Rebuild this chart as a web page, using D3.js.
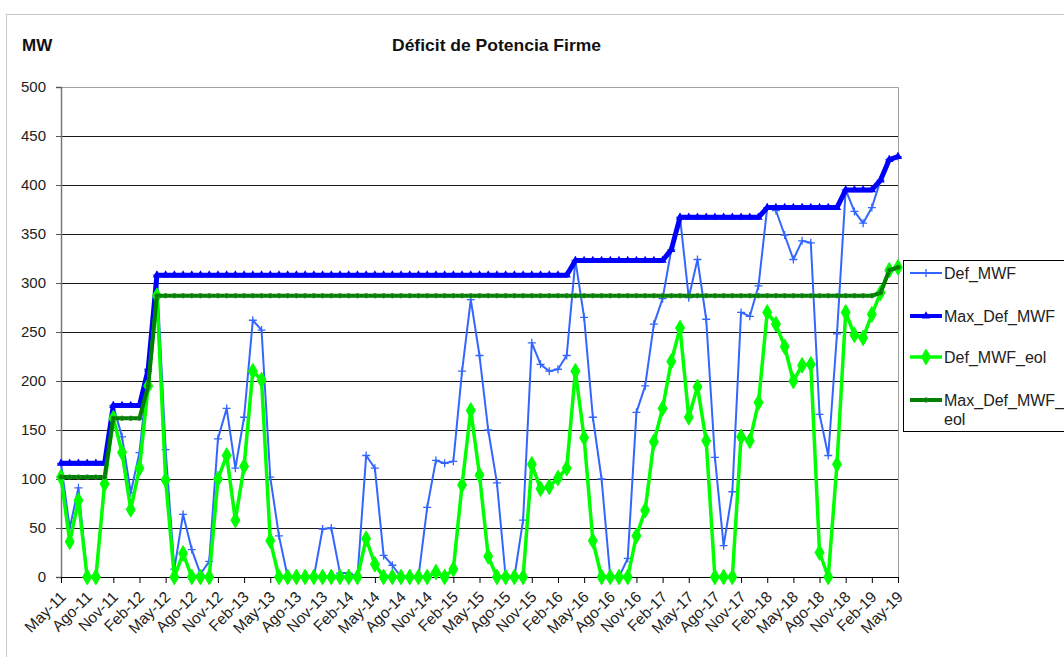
<!DOCTYPE html>
<html>
<head>
<meta charset="utf-8">
<script src="https://cdn.jsdelivr.net/npm/d3@7"></script>
<style>
  body { margin: 0; background: #fff; }
  text { font-family: "Liberation Sans", Arial, sans-serif; }
</style>
</head>
<body>
<svg id="chart" width="1064" height="657"></svg>
<script>
// month names as they appear on the axis (Spanish "Ago")
const monthNames = ['Ene', 'Feb', 'Mar', 'Abr', 'May', 'Jun', 'Jul', 'Ago', 'Sep', 'Oct', 'Nov', 'Dic']
const years = ['11', '12', '13', '14', '15', '16', '17', '18', '19']

const yTicks = [0, 50, 100, 150, 200, 250, 300, 350, 400, 450, 500]

const defMWF = [
  116, 50, 91, 0, 0, 96, 175, 143, 86, 127, 212, 308,
  130, 8, 64, 28, 3, 16, 141, 172, 111, 163, 262, 252,
  102, 42, 0, 0, 0, 0, 49, 50, 4, 4, 0, 124,
  111, 22, 12, 0, 0, 0, 71, 119, 116, 118, 210, 283,
  226, 150, 96, 0, 0, 58, 239, 217, 210, 212, 226, 323,
  265, 163, 100, 0, 0, 19, 168, 195, 258, 284, 334, 367,
  285, 324, 263, 122, 32, 87, 270, 266, 297, 377, 374, 349,
  324, 343, 341, 166, 124, 248, 395, 373, 361, 377, 405, 426,
  429
]

const maxDefMWF = [
  116, 116, 116, 116, 116, 116, 175, 175, 175, 175, 212, 308,
  308, 308, 308, 308, 308, 308, 308, 308, 308, 308, 308, 308,
  308, 308, 308, 308, 308, 308, 308, 308, 308, 308, 308, 308,
  308, 308, 308, 308, 308, 308, 308, 308, 308, 308, 308, 308,
  308, 308, 308, 308, 308, 308, 308, 308, 308, 308, 308, 323,
  323, 323, 323, 323, 323, 323, 323, 323, 323, 323, 334, 367,
  367, 367, 367, 367, 367, 367, 367, 367, 367, 377, 377, 377,
  377, 377, 377, 377, 377, 377, 395, 395, 395, 395, 405, 426,
  429
]

const defMWFeol = [
  102, 36, 78, 0, 0, 95, 162, 127, 69, 111, 195, 287,
  99, 0, 24, 0, 0, 0, 100, 124, 58, 113, 210, 201,
  37, 0, 0, 0, 0, 0, 0, 0, 0, 0, 0, 39,
  13, 0, 0, 0, 0, 0, 0, 5, 0, 8, 94, 170,
  104, 21, 0, 0, 0, 0, 115, 90, 92, 101, 111, 210,
  142, 37, 0, 0, 0, 0, 42, 68, 138, 172, 220, 254,
  163, 194, 139, 0, 0, 0, 143, 139, 178, 270, 258, 235,
  200, 216, 217, 25, 0, 115, 270, 247, 244, 268, 290, 313,
  316
]

const maxDefMWFeol = [
  102, 102, 102, 102, 102, 102, 162, 162, 162, 162, 195, 287,
  287, 287, 287, 287, 287, 287, 287, 287, 287, 287, 287, 287,
  287, 287, 287, 287, 287, 287, 287, 287, 287, 287, 287, 287,
  287, 287, 287, 287, 287, 287, 287, 287, 287, 287, 287, 287,
  287, 287, 287, 287, 287, 287, 287, 287, 287, 287, 287, 287,
  287, 287, 287, 287, 287, 287, 287, 287, 287, 287, 287, 287,
  287, 287, 287, 287, 287, 287, 287, 287, 287, 287, 287, 287,
  287, 287, 287, 287, 287, 287, 287, 287, 287, 287, 290, 313,
  316
]

// May-11 .. May-19
const categories = []
years.forEach(yr => monthNames.forEach(m => categories.push(m + '-' + yr)))
const months = categories.slice(categories.indexOf('May-11'), categories.indexOf('May-19') + 1)

const series = [
  { name: 'Def_MWF', values: defMWF, color: '#3366ff', width: 2, marker: 'cross' },
  { name: 'Max_Def_MWF', values: maxDefMWF, color: '#0000ff', width: 5, marker: 'triangle' },
  { name: 'Def_MWF_eol', values: defMWFeol, color: '#00ff00', width: 3.5, marker: 'diamond' },
  { name: 'Max_Def_MWF_eol', values: maxDefMWFeol, color: '#008000', width: 4, marker: 'circle' }
]

const svg = d3.select('#chart')
const margin = { top: 87, left: 61 }
const width = 837
const height = 490

// outer chart frame
svg.append('rect')
  .attr('x', 6.5).attr('y', 14.5)
  .attr('width', 1100).attr('height', 700)
  .attr('fill', '#fff').attr('stroke', '#c8c8c8')

svg.append('text')
  .attr('x', 22).attr('y', 51)
  .attr('font-size', 17).attr('font-weight', 'bold')
  .attr('fill', '#111')
  .text('MW')

svg.append('text')
  .attr('x', 392).attr('y', 51)
  .attr('font-size', 17).attr('font-weight', 'bold')
  .attr('fill', '#111')
  .attr('textLength', 209).attr('lengthAdjust', 'spacingAndGlyphs')
  .text('Déficit de Potencia Firme')

const g = svg.append('g').attr('transform', 'translate(' + margin.left + ',' + margin.top + ')')

const x = d3.scalePoint().domain(months).range([0, width])
const y = d3.scaleLinear().domain([0, 500]).range([height, 0])

// gridlines
g.append('g')
  .selectAll('line')
  .data(yTicks.filter(t => t > 0 && t < 500))
  .join('line')
  .attr('x1', 0).attr('x2', width)
  .attr('y1', d => Math.round(y(d)) + 0.5).attr('y2', d => Math.round(y(d)) + 0.5)
  .attr('stroke', '#1a1a1a')

// plot frame top/right
g.append('path')
  .attr('d', 'M0,0.5H' + (width + 0.5) + 'V' + height)
  .attr('fill', 'none').attr('stroke', '#a0a0a0')

const yAxis = g.append('g')
  .call(d3.axisLeft(y).tickValues(yTicks).tickSize(5).tickPadding(10))
yAxis.select('.domain').attr('stroke', '#777').attr('stroke-width', 1.5)
yAxis.selectAll('.tick line').attr('stroke', '#555')
yAxis.selectAll('text')
  .attr('font-size', 15).attr('fill', '#222')
  .attr('font-family', '"Liberation Sans", Arial, sans-serif')

const xTickValues = months.filter((m, i) => i % 3 === 0)
const xAxis = g.append('g')
  .attr('transform', 'translate(0,' + height + ')')
  .call(d3.axisBottom(x).tickValues(xTickValues).tickSize(6).tickFormat(''))
xAxis.select('.domain').attr('stroke', '#000')
xAxis.selectAll('.tick line').attr('stroke', '#000')

g.append('g')
  .selectAll('text')
  .data(xTickValues)
  .join('text')
  .attr('transform', d => 'translate(' + (x(d) + 2) + ',' + (height + 17) + ') rotate(-45)')
  .attr('text-anchor', 'end')
  .attr('dy', '0.35em')
  .attr('font-size', 15.5)
  .attr('fill', '#222')
  .text(d => d)

const symbols = {
  cross: d3.symbol().type(d3.symbolCross).size(40),
  triangle: d3.symbol().type(d3.symbolTriangle).size(30),
  diamond: d3.symbol().type(d3.symbolDiamond).size(70),
  circle: d3.symbol().type(d3.symbolCircle).size(16)
}

function drawMarker (sel, s) {
  if (s.marker === 'cross') {
    sel.append('path')
      .attr('d', 'M-4,0H4M0,-4V4')
      .attr('stroke', s.color).attr('stroke-width', 1.3)
  } else if (s.marker === 'circle') {
    sel.append('path')
      .attr('d', symbols.circle())
      .attr('fill', s.color)
      .attr('stroke', '#2e8b2e').attr('stroke-width', 0.8)
  } else {
    sel.append('path')
      .attr('d', symbols[s.marker]())
      .attr('fill', s.color)
      .attr('stroke', s.marker === 'diamond' ? s.color : 'none')
  }
}

const line = d3.line()
  .x((d, i) => x(months[i]))
  .y(d => y(d))

series.forEach(s => {
  const sg = g.append('g')
  sg.append('path')
    .datum(s.values)
    .attr('fill', 'none')
    .attr('stroke', s.color)
    .attr('stroke-width', s.width)
    .attr('stroke-linejoin', 'round')
    .attr('d', line)
  s.values.forEach((v, i) => {
    sg.append('g')
      .attr('transform', 'translate(' + x(months[i]) + ',' + y(v) + ')')
      .call(drawMarker, s)
  })
})

// legend
const legend = svg.append('g').attr('transform', 'translate(903,260)')
legend.append('rect')
  .attr('x', 0.5).attr('y', 0.5)
  .attr('width', 200).attr('height', 171)
  .attr('fill', '#fff').attr('stroke', '#000')

const legendRows = [13, 56, 97, 140]
series.forEach((s, i) => {
  const row = legend.append('g').attr('transform', 'translate(0,' + legendRows[i] + ')')
  row.append('line')
    .attr('x1', 7).attr('x2', 39)
    .attr('stroke', s.color).attr('stroke-width', Math.min(s.width, 4))
  row.append('g').attr('transform', 'translate(23,0)').call(drawMarker, s)
  const label = row.append('text')
    .attr('x', 41).attr('y', 6)
    .attr('font-size', 16).attr('fill', '#222')
  if (s.name === 'Max_Def_MWF_eol') {
    label.text('Max_Def_MWF_')
    row.append('text')
      .attr('x', 41).attr('y', 25)
      .attr('font-size', 16).attr('fill', '#222')
      .text('eol')
  } else {
    label.text(s.name)
  }
})
</script>
</body>
</html>
